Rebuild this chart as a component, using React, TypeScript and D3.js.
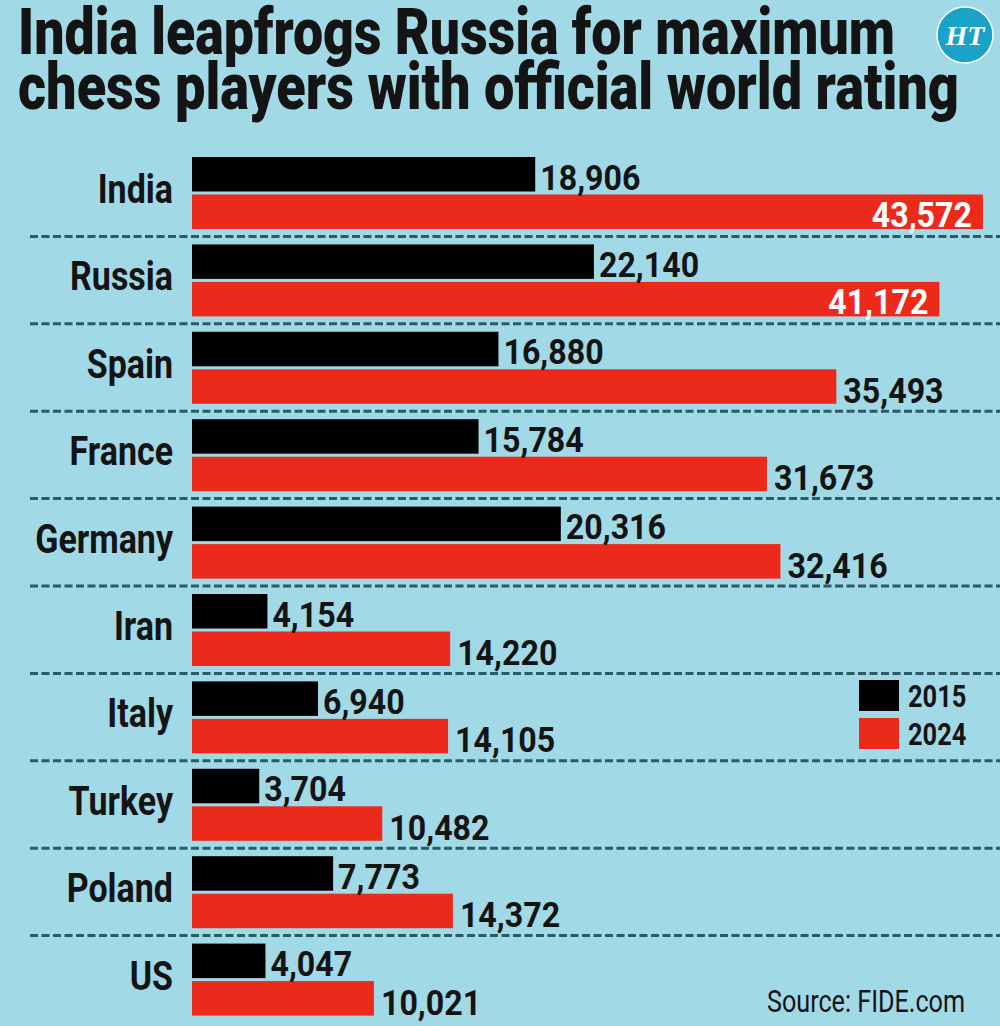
import React, { useEffect, useRef } from 'react'
import * as d3 from 'd3'

const countries = ['India', 'Russia', 'Spain', 'France', 'Germany', 'Iran', 'Italy', 'Turkey', 'Poland', 'US']
const players2015 = [18906, 22140, 16880, 15784, 20316, 4154, 6940, 3704, 7773, 4047]
const players2024 = [43572, 41172, 35493, 31673, 32416, 14220, 14105, 10482, 14372, 10021]
const years = ['2015', '2024']
const titleLines = ['India leapfrogs Russia for maximum', 'chess players with official world rating']
const source = 'Source: FIDE.com'

const W = 1000
const H = 1026
const BG = '#a1d9e6'
const RED = '#ec2a1c'
const INK = '#141414'
const FONT = 'Roboto, "Open Sans", sans-serif'

export default function App() {
  const ref = useRef<SVGSVGElement>(null)

  useEffect(() => {
    const svg = d3.select(ref.current)
    svg.selectAll('*').remove()

    svg.append('rect').attr('width', W).attr('height', H).attr('fill', BG)

    // title
    const titleY = [54, 109]
    const titleW = [877, 941]
    svg.selectAll('.title')
      .data(titleLines)
      .enter()
      .append('text')
      .attr('class', 'title')
      .attr('x', 18)
      .attr('y', (d, i) => titleY[i])
      .attr('textLength', (d, i) => titleW[i])
      .attr('lengthAdjust', 'spacingAndGlyphs')
      .attr('font-family', FONT)
      .attr('font-weight', 900)
      .attr('font-size', 65)
      .attr('fill', INK)
      .text(d => d)

    // HT logo
    const logo = svg.append('g').attr('transform', 'translate(965,35)')
    logo.append('circle').attr('r', 28).attr('fill', '#1ba3c7').attr('stroke', '#fff').attr('stroke-width', 1.5)
    logo.append('text')
      .attr('y', 10)
      .attr('text-anchor', 'middle')
      .attr('font-family', '"Liberation Serif", serif')
      .attr('font-style', 'italic')
      .attr('font-weight', 700)
      .attr('font-size', 28)
      .attr('fill', '#fff')
      .text('HT')

    const rows = countries.map((c, i) => ({ country: c, v2015: players2015[i], v2024: players2024[i] }))

    const xScale = d3.scaleLinear()
      .domain([0, d3.max(players2024) as number])
      .range([192, 983])

    const yScale = d3.scaleBand<string>()
      .domain(countries)
      .range([149, 149 + 87.4 * countries.length])

    const inner = d3.scaleBand<string>()
      .domain(years)
      .range([8, 80])
      .paddingInner(0.08)

    // dashed separators
    svg.selectAll('.sep')
      .data(countries.slice(0, -1))
      .enter()
      .append('line')
      .attr('class', 'sep')
      .attr('x1', 30)
      .attr('x2', W)
      .attr('y1', d => (yScale(d) as number) + yScale.bandwidth())
      .attr('y2', d => (yScale(d) as number) + yScale.bandwidth())
      .attr('stroke', '#2b5b67')
      .attr('stroke-width', 3)
      .attr('stroke-dasharray', '8 3.5')

    const g = svg.selectAll('.row')
      .data(rows)
      .enter()
      .append('g')
      .attr('class', 'row')
      .attr('transform', d => 'translate(0,' + yScale(d.country) + ')')

    // country names
    g.append('text')
      .attr('transform', 'translate(173,54) scale(0.85,1)')
      .attr('text-anchor', 'end')
      .attr('font-family', FONT)
      .attr('font-weight', 700)
      .attr('font-size', 40)
      .attr('fill', INK)
      .text(d => d.country)

    const y15 = inner('2015') as number
    const y24 = inner('2024') as number
    const bh = inner.bandwidth()

    g.append('rect')
      .attr('x', xScale(0))
      .attr('y', y15)
      .attr('width', d => xScale(d.v2015) - xScale(0))
      .attr('height', bh)
      .attr('fill', '#000')

    g.append('rect')
      .attr('x', xScale(0))
      .attr('y', y24)
      .attr('width', d => xScale(d.v2024) - xScale(0))
      .attr('height', bh)
      .attr('fill', RED)

    const fmt = d3.format(',')

    g.append('text')
      .attr('transform', d => 'translate(' + (xScale(d.v2015) + 5) + ',' + (y15 + bh - 2) + ') scale(0.92,1)')
      .attr('font-family', FONT)
      .attr('font-weight', 700)
      .attr('font-size', 35)
      .attr('fill', INK)
      .text(d => fmt(d.v2015))

    g.append('text')
      .attr('transform', d => d.v2024 > 40000
        ? 'translate(' + (xScale(d.v2024) - 11) + ',' + (y24 + bh - 2) + ') scale(0.92,1)'
        : 'translate(' + (xScale(d.v2024) + 7) + ',' + (y24 + bh - 1) + ') scale(0.92,1)')
      .attr('text-anchor', d => d.v2024 > 40000 ? 'end' : 'start')
      .attr('font-family', FONT)
      .attr('font-weight', 700)
      .attr('font-size', 35)
      .attr('fill', d => d.v2024 > 40000 ? '#fff' : INK)
      .text(d => fmt(d.v2024))

    // legend
    const legendColors = ['#000', RED]
    const leg = svg.selectAll('.legend')
      .data(years)
      .enter()
      .append('g')
      .attr('class', 'legend')
      .attr('transform', (d, i) => 'translate(859,' + (680 + i * 38) + ')')
    leg.append('rect').attr('width', 40).attr('height', 31).attr('fill', (d, i) => legendColors[i])
    leg.append('text')
      .attr('transform', 'translate(49,27) scale(0.82,1)')
      .attr('font-family', FONT)
      .attr('font-weight', 700)
      .attr('font-size', 31)
      .attr('fill', INK)
      .text(d => d)

    // source
    svg.append('text')
      .attr('x', 767)
      .attr('y', 1012)
      .attr('textLength', 198)
      .attr('lengthAdjust', 'spacingAndGlyphs')
      .attr('font-family', FONT)
      .attr('font-size', 31)
      .attr('fill', INK)
      .text(source)
  }, [])

  return (
    <svg ref={ref} width={W} height={H} style={{ position: 'absolute', left: 0, top: 0, display: 'block' }} />
  )
}
